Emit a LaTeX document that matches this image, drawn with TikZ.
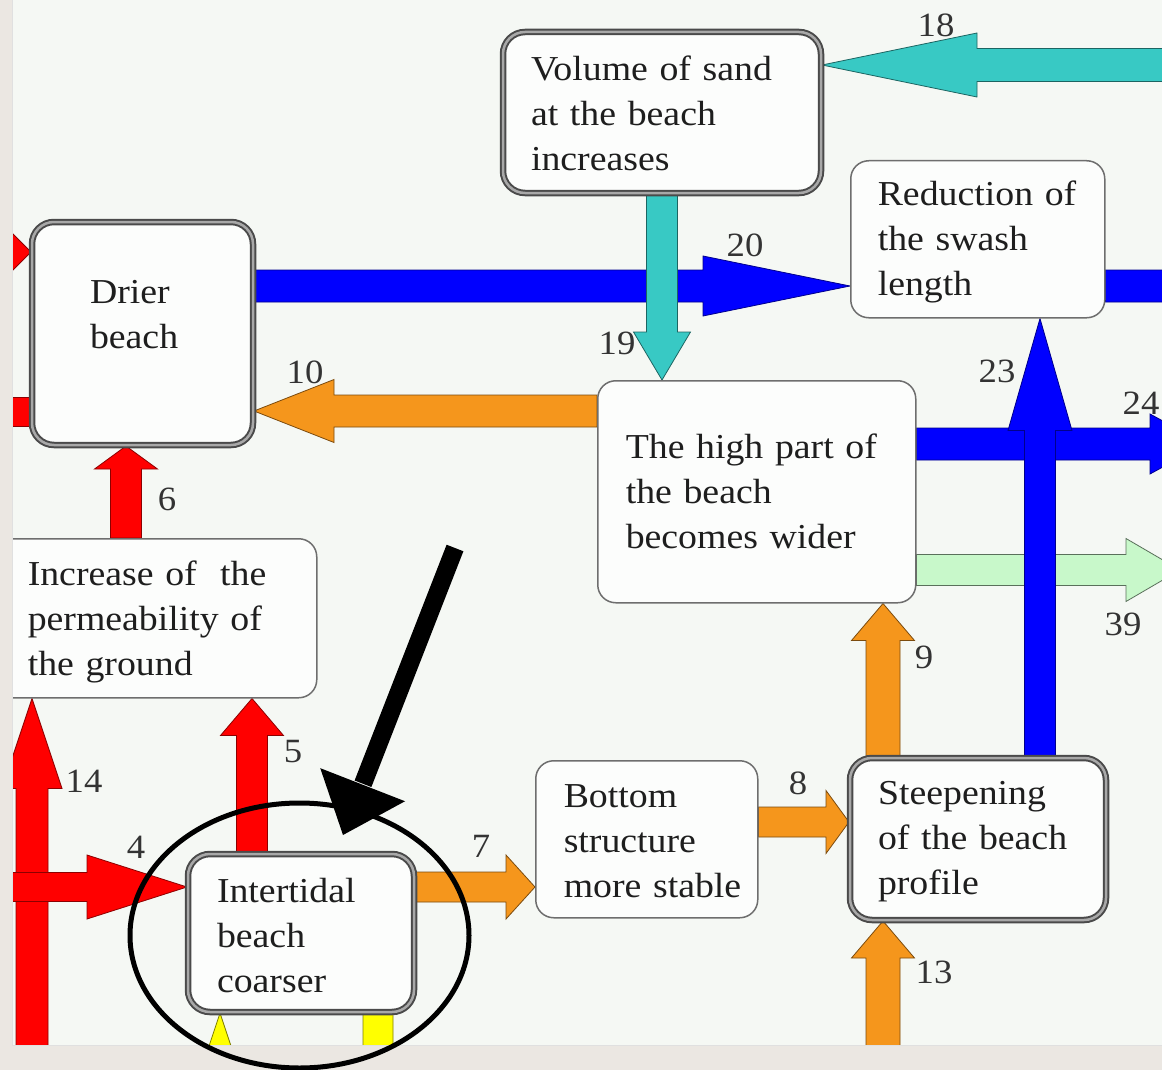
\documentclass[tikz,border=0pt]{standalone}
\usepackage{fontspec}
\setmainfont{Liberation Serif}[FakeStretch=1.08]
\usetikzlibrary{calc}
\pgfdeclarelayer{bg}
\pgfdeclarelayer{fg}
\pgfsetlayers{bg,main,fg}
\definecolor{bgmain}{HTML}{F5F8F4}
\definecolor{marble}{HTML}{EBE7E2}
\definecolor{boxfill}{HTML}{FCFDFC}
\definecolor{boxline}{HTML}{6E6E6E}
\definecolor{dline}{HTML}{4A4A4A}
\definecolor{dmid}{HTML}{A8A8A8}
\definecolor{txtc}{HTML}{1E1E1E}
\definecolor{lblc}{HTML}{333333}
\definecolor{cblue}{HTML}{0000FF}
\definecolor{cred}{HTML}{FF0000}
\definecolor{corange}{HTML}{F5961C}
\definecolor{ccyan}{HTML}{38C9C4}
\definecolor{cgreen}{HTML}{C8F8CA}
\definecolor{cyellow}{HTML}{FFFF00}
% block arrow: style, from, to, shaft half width, head half width, head length
\newcommand\blockarr[6]{%
  \coordinate (ba) at (#2);
  \coordinate (bb) at (#3);
  \coordinate (bh) at ($(bb)!#6!(ba)$);
  \draw[#1] ($(ba)!#4!90:(bb)$) -- ($(bh)!#4!90:(bb)$) -- ($(bh)!#5!90:(bb)$) -- (bb)
    -- ($(bh)!#5!-90:(bb)$) -- ($(bh)!#4!-90:(bb)$) -- ($(ba)!#4!-90:(bb)$) -- cycle;}
\begin{document}
\begin{tikzpicture}[x=1pt,y=-1pt,
  txt/.style={font=\fontsize{35}{45}\selectfont, text=txtc, align=left, anchor=north west, inner ysep=0pt, text height=24pt},
  sbox/.style={txt, draw=boxline, line width=1.5pt, fill=boxfill, rounded corners=18pt},
  dbox/.style={txt, draw=dline, line width=2pt, double=dmid, double distance=2.5pt, fill=boxfill, rounded corners=22pt},
  lbl/.style={font=\fontsize{34}{40}\selectfont, text=lblc, inner sep=0pt},
  ab/.style={line width=0.8pt, line join=miter},
  blue arr/.style={ab, fill=cblue, draw=cblue!55!black},
  red arr/.style={ab, fill=cred, draw=cred!55!black},
  orange arr/.style={ab, fill=corange, draw=corange!50!black},
  cyan arr/.style={ab, fill=ccyan, draw=ccyan!50!black},
  green arr/.style={ab, fill=cgreen, draw=cgreen!45!black},
  yellow arr/.style={ab, fill=cyellow, draw=cyellow!50!black}]
\useasboundingbox (0,0) rectangle (1162,1070);
\clip (0,0) rectangle (1162,1070);

% ---------- boxes ----------
\node[dbox, minimum width=318pt, minimum height=161pt, text width=262pt, inner xsep=28pt, text depth=87pt]
  (vol) at (502,31) {\mbox{Volume of sand}\\\mbox{at the beach}\\\mbox{increases}};
\node[dbox, minimum width=221pt, minimum height=223pt, text width=105pt, inner xsep=58pt, text depth=85pt]
  (drier) at (31,221) {\mbox{Drier}\\\mbox{beach}};
\node[sbox, minimum width=254pt, minimum height=157pt, text width=200pt, inner xsep=27pt, text depth=91pt]
  (red) at (850,160) {\mbox{Reduction of}\\\mbox{the swash}\\\mbox{length}};
\node[sbox, minimum width=318pt, minimum height=222pt, text width=262pt, inner xsep=28pt, text depth=90pt]
  (high) at (597,380) {\mbox{The high part of}\\\mbox{the beach}\\\mbox{becomes wider}};
\node[sbox, minimum width=336pt, minimum height=159pt, text width=242pt, inner xsep=47pt, text depth=89pt]
  (inc) at (-20,538) {\mbox{Increase of~ the}\\\mbox{permeability of}\\\mbox{the ground}};
\node[dbox, minimum width=226pt, minimum height=158pt, text width=168pt, inner xsep=29pt, text depth=86pt]
  (inter) at (187,853) {\mbox{Intertidal}\\\mbox{beach}\\\mbox{coarser}};
\node[sbox, minimum width=222pt, minimum height=157pt, text width=166pt, inner xsep=28pt, text depth=87pt]
  (bot) at (535,760) {\mbox{Bottom}\\\mbox{structure}\\\mbox{more stable}};
\node[dbox, minimum width=256pt, minimum height=162pt, text width=200pt, inner xsep=28pt, text depth=94pt]
  (steep) at (849,757) {\mbox{Steepening}\\\mbox{of the beach}\\\mbox{profile}};

% ---------- reference coordinates ----------
\coordinate (e18) at (1240,65);
\coordinate (r20) at (0,286);
\coordinate (e20) at (1300,286);
\coordinate (c19) at (662,0);
\coordinate (r10) at (0,411);
\coordinate (c6) at (126,0);
\coordinate (s14) at (32,1120);
\coordinate (s4) at (-30,887);
\coordinate (c5) at (252,0);
\coordinate (r7) at (0,887);
\coordinate (r8) at (0,822);
\coordinate (c9) at (883,0);
\coordinate (s13) at (883,1120);
\coordinate (r24) at (0,444);
\coordinate (e24) at (1205,444);
\coordinate (r39) at (0,570);
\coordinate (e39) at (1180,570);
\coordinate (c23) at (1040,0);
\coordinate (s3) at (-60,252);
\coordinate (r3b) at (0,412);
\coordinate (e3b) at (-120,412);
\coordinate (sy1) at (220,1200);
\coordinate (cy2) at (378,0);
\coordinate (ey2) at (378,1250);

% ---------- arrows (under the boxes) ----------
\begin{pgfonlayer}{bg}
\fill[bgmain] (0,0) rectangle (1162,1070);
\blockarr{blue arr}{drier.east |- r20}{red.west |- r20}{16pt}{30pt}{147pt}
\blockarr{blue arr}{red.east |- r20}{e20}{16pt}{30pt}{100pt}
\blockarr{cyan arr}{e18}{vol.east |- e18}{16.5pt}{32pt}{155pt}
\blockarr{cyan arr}{vol.south -| c19}{high.north -| c19}{15.5pt}{28.5pt}{48pt}
\blockarr{orange arr}{high.west |- r10}{drier.east |- r10}{16pt}{31.5pt}{80pt}
\blockarr{red arr}{inc.north -| c6}{drier.south -| c6}{15.5pt}{31.5pt}{23pt}
\blockarr{red arr}{s3}{drier.west |- s3}{14pt}{32pt}{32pt}
\blockarr{red arr}{drier.west |- r3b}{e3b}{14.5pt}{30pt}{40pt}
\blockarr{red arr}{s14}{inc.south -| s14}{16pt}{30pt}{90pt}
\blockarr{red arr}{s4}{inter.west |- s4}{14.5pt}{32pt}{100pt}
\blockarr{red arr}{inter.north -| c5}{inc.south -| c5}{15.5pt}{31.5pt}{37pt}
\blockarr{orange arr}{inter.east |- r7}{bot.west |- r7}{15pt}{32pt}{29pt}
\blockarr{orange arr}{bot.east |- r8}{steep.west |- r8}{15pt}{31.5pt}{23pt}
\blockarr{orange arr}{steep.north -| c9}{high.south -| c9}{17pt}{31.5pt}{37pt}
\blockarr{orange arr}{s13}{steep.south -| s13}{17pt}{31.5pt}{37pt}
\blockarr{blue arr}{high.east |- r24}{e24}{16pt}{30pt}{55pt}
\blockarr{green arr}{high.east |- r39}{e39}{15.5pt}{31.5pt}{54pt}
\blockarr{blue arr}{steep.north -| c23}{red.south -| c23}{15.5pt}{32pt}{112pt}
\blockarr{yellow arr}{sy1}{inter.south -| sy1}{16pt}{32pt}{96pt}
\blockarr{yellow arr}{inter.south -| cy2}{ey2}{15pt}{30pt}{60pt}
\end{pgfonlayer}

% ---------- arrow labels ----------
\node[lbl] (l18) at (936,25) {18};
\node[lbl] (l20) at (745,245) {20};
\node[lbl] (l19) at (617,343) {19};
\node[lbl] (l23) at (997,371) {23};
\node[lbl] (l24) at (1141,403) {24};
\node[lbl] (l10) at (305,372) {10};
\node[lbl] (l6) at (167,499) {6};
\node[lbl] (l14) at (84,781) {14};
\node[lbl] (l4) at (136,847) {4};
\node[lbl] (l5) at (293,752) {5};
\node[lbl] (l7) at (481,846) {7};
\node[lbl] (l8) at (798,783) {8};
\node[lbl] (l9) at (924,657) {9};
\node[lbl] (l13) at (934,972) {13};
\node[lbl] (l39) at (1123,624) {39};

% ---------- frame and annotation ----------
\begin{pgfonlayer}{fg}
\fill[marble] (0,0) rectangle (12,1070);
\fill[marble] (0,1045) rectangle (1162,1070);
\draw[black!12, line width=1pt] (12.5,0) -- (12.5,1045) -- (1162,1045);
\draw[line width=5pt] (299.5,935.5) ellipse [x radius=169.5pt, y radius=132.5pt];
\coordinate (ann1) at (455,548);
\coordinate (ann2) at (343,835);
\coordinate (annb) at ($(ann2)!54pt!(ann1)$);
\draw[line width=18pt] (ann1) -- ($(annb)!-1pt!(ann2)$);
\fill ($(annb)!45.5pt!90:(ann2)$) -- (ann2) -- ($(annb)!45.5pt!-90:(ann2)$) -- cycle;
\end{pgfonlayer}
\end{tikzpicture}
\end{document}
